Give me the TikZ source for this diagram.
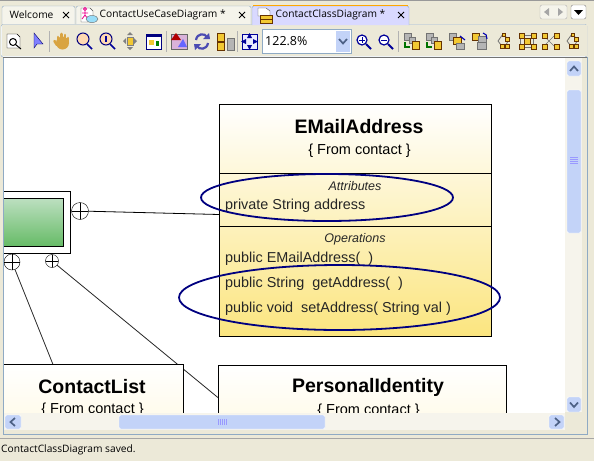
\documentclass[tikz,border=0pt]{standalone}
\usepackage{fontspec}
\setmainfont{Liberation Sans}
\newfontfamily\uifont{Open Sans}
\usetikzlibrary{shapes.geometric}
\definecolor{panelbg}{HTML}{ECE9D8}
\definecolor{framecol}{HTML}{8FAAC4}
\definecolor{thumbcol}{HTML}{C3D3F8}
\definecolor{arrowcol}{HTML}{4D6185}
\definecolor{markblue}{HTML}{000080}
\definecolor{iconyellow}{HTML}{F2C832}
\definecolor{icongray}{HTML}{B5B5B5}
\definecolor{classyellow}{HTML}{FBE57F}
\definecolor{classpale}{HTML}{FFF6D2}
\definecolor{handcol}{HTML}{D9A441}
\tikzset{
  tabtext/.style={font=\uifont\fontsize{10.2}{12}\selectfont,inner sep=0pt,anchor=west},
  tab/.style={draw=framecol,fill=#1,rounded corners=2pt},
  classbox/.style={draw=black,line width=0.8pt,top color=white},
  member/.style={font=\fontsize{14.4}{16}\selectfont,inner sep=0pt,anchor=base west,text=black!85},
  compartment/.style={font=\itshape\fontsize{12.5}{14}\selectfont,inner sep=0pt,text=black!85},
  classname/.style={font=\bfseries\fontsize{19.5}{22}\selectfont,inner sep=0pt},
  fromtext/.style={font=\fontsize{14.5}{16}\selectfont,inner sep=0pt},
  portcircle/.style={circle,draw=black,fill=white,inner sep=0pt,minimum size=#1,
    path picture={\draw (path picture bounding box.north) -- (path picture bounding box.south)
      (path picture bounding box.west) -- (path picture bounding box.east);}},
  markup/.style={ellipse,draw=markblue,line width=1.8pt,inner sep=0pt},
  sbbutton/.style={draw=white,fill=thumbcol,rounded corners=1.5pt},
  sbarrow/.style={draw=arrowcol,line width=1.7pt},
  sep/.style={draw=black!30},
  gray box/.style={draw=black!55,fill=icongray,line width=0.5pt},
  yellow box/.style={draw=black!60!orange,fill=iconyellow,line width=0.5pt},
}
\begin{document}
\begin{tikzpicture}[x=1pt,y=-1pt]
  \useasboundingbox (0,0) rectangle (594,461);
  \fill[panelbg] (0,0) rectangle (594,461);
  \draw[black!40] (0,0.5) -- (594,0.5);

  % Tabs
  \draw[tab=panelbg!50!white] (2,24) -- (2,6) -- (75,6) -- (75,24);
  \draw[tab=panelbg!50!white] (76,24) -- (76,6) -- (251,6) -- (251,24);
  \draw[tab=white] (1,24.5) -- (587,24.5) -- (587,57) -- (1,57) -- cycle;
  \fill[panelbg] (1.5,25) rectangle (586.5,56);
  \draw[tab=white!85!blue] (252,25) -- (252,6) -- (409,6) -- (409,25);
  \draw[orange!70!yellow,line width=1.5pt] (253,5.5) -- (408,5.5);
  \node[tabtext] (welcome) at (9.5,15) {Welcome};
  \node[tabtext] (usecase) at (99.5,15) {ContactUseCaseDiagram *};
  \node[tabtext] (classtab) at (275.5,15) {ContactClassDiagram *};
  \foreach \x in {66,242,401} {
    \draw[line width=1pt] (\x-3,12) -- (\x+3,18) (\x-3,18) -- (\x+3,12);
  }
  % tab icons
  \draw[draw=black!70,fill=white] (81,8) -- (90,8) -- (93,11) -- (93,22) -- (81,22) -- cycle;
  \draw[magenta,line width=0.8pt] (85,9) circle (1.5) (85,11) -- (85,15) -- (82,19) (85,15) -- (88,19) (82,13) -- (88,13);
  \draw[draw=black!60,fill=cyan!40] (92,19) ellipse (6 and 3.5);
  \draw[draw=black!70,fill=white] (258,8) -- (266,8) -- (270,11) -- (270,16) -- (258,16) -- cycle;
  \draw[draw=black!60!orange,fill=iconyellow] (260,15) rectangle (272,23);
  \draw[black!60!orange] (260,19) -- (272,19);
  % tab arrows
  \draw[draw=black!30,fill=panelbg!50!white,rounded corners=2pt] (540,5) rectangle (567,19);
  \fill[black!35] (549,8) -- (549,16) -- (544,12) -- cycle (558,8) -- (558,16) -- (563,12) -- cycle;
  \draw[draw=black!50,fill=white,rounded corners=2pt] (571,5) rectangle (586,19);
  \fill[black] (574,10) -- (583,10) -- (578.5,15) -- cycle;

  % Toolbar
  \foreach \x in {49,166,237,398} {
    \draw[sep] (\x,31) -- (\x,52);
  }
  \draw[fill=white,draw=black] (7,34) -- (17,34) -- (20,37) -- (20,48) -- (7,48) -- cycle;
  \draw[line width=1pt] (13,42) circle (3.5) (15.5,44.5) -- (21,49);
  \fill[blue!50!white,draw=blue!40!black] (34,33) -- (34,48) -- (37,44) -- (43,44) -- cycle;
  % hand
  \fill[handcol] (62.5,43) circle (6.5);
  \foreach \x/\t in {58/37,61.5/34,65/35,68/38} {
    \draw[handcol,line width=2.6pt,line cap=round] (\x,42) -- (\x,\t);
  }
  \draw[handcol,line width=2.6pt,line cap=round] (57,45) -- (54.5,41);
  \foreach \x in {84,107} {
    \draw[draw=blue!50!black,fill=orange!30!white,line width=1pt] (\x-1,39) circle (6);
    \draw[draw=blue!60!black,line width=1.6pt] (\x+3,44) -- (\x+8,49);
  }
  \fill[blue!60!black] (105,36) rectangle (107,42);
  \fill[iconyellow,draw=black!50] (127,37) rectangle (133,45);
  \fill[black!50] (130,32) -- (127,35) -- (133,35) -- cycle (130,50) -- (127,47) -- (133,47) -- cycle
    (123,41) -- (126,38) -- (126,44) -- cycle (137,41) -- (134,38) -- (134,44) -- cycle;
  \draw[draw=blue!50!black,fill=white] (146,34) rectangle (161,49);
  \fill[blue!50!black] (146,34) rectangle (161,37);
  \fill[iconyellow] (149,40) rectangle (154,45);
  \fill[green!50!black] (156,41) rectangle (159,46);
  \draw[draw=black!60,fill=violet!30] (171,34) rectangle (187,49);
  \fill[red!70!black] (176,33) -- (171,40) -- (181,40) -- cycle;
  \fill[blue!60] (183,39) -- (178,47) -- (187,47) -- cycle;
  % refresh
  \draw[blue!40!gray,line width=2.2pt] (196,40) .. controls (197,33) and (205,33) .. (207,37);
  \draw[blue!40!gray,line width=2.2pt] (208,43) .. controls (207,50) and (199,50) .. (197,46);
  \fill[blue!40!gray] (203,39) -- (210,39) -- (209,33) -- cycle (201,44) -- (194,44) -- (195,50) -- cycle;
  \draw[yellow box] (217,33) rectangle (224,41);
  \draw[yellow box] (217,42) rectangle (224,50);
  \draw[gray box] (227,38) rectangle (234,50);
  \draw[draw=blue!60!black,fill=blue!8] (242,34) rectangle (257,49);
  \fill[blue!60!black] (249.5,33) -- (247,38) -- (252,38) -- cycle (249.5,50) -- (247,45) -- (252,45) -- cycle
    (241,41.5) -- (246,39) -- (246,44) -- cycle (258,41.5) -- (253,39) -- (253,44) -- cycle;

  % Zoom box
  \draw[draw=framecol,fill=white] (262.5,29.5) rectangle (351,53);
  \node[inner sep=0pt,anchor=west,font=\uifont\fontsize{12.5}{14}\selectfont] (zoomtext) at (265,41.5) {122.8\%};
  \fill[thumbcol] (336,31) rectangle (350,52);
  \draw[sbarrow] (339,39) -- (343,43.5) -- (347,39);
  \foreach \x in {362,384} {
    \draw[draw=blue!60!black,fill=white,line width=1.2pt] (\x,40) circle (5);
    \draw[draw=blue!60!black,line width=1.8pt] (\x+4,44) -- (\x+9,49);
    \draw[blue!60!black,line width=1pt] (\x-3,40) -- (\x+3,40);
  }
  \draw[blue!60!black,line width=1pt] (362,37) -- (362,43);
  % Layout icons
  \foreach \x in {404,426} {
    \draw[gray box] (\x,33) rectangle +(7,7);
    \draw[gray box] (\x+5,37) rectangle +(6,6);
    \draw[yellow box] (\x+8,41) rectangle +(7,8);
    \draw[green!45!black,line width=1.2pt] (\x+1,42) -- (\x+1,47) -- (\x+6,47);
  }
  \draw[gray box] (449,33) rectangle +(7,7);
  \draw[yellow box] (453,37) rectangle +(8,7);
  \draw[gray box] (456,43) rectangle +(8,6);
  \draw[blue!70!black,line width=1.1pt] (460,36) -- (465,40);
  \draw[yellow box] (472,33) rectangle +(7,7);
  \draw[gray box] (478,36) rectangle +(8,7);
  \draw[gray box] (477,42) rectangle +(9,7);
  \draw[blue!70!black,line width=1.1pt] (483,33) .. controls (486,33) and (487,36) .. (487,39);
  \foreach \x in {503,572} {
    \draw[black!55,line width=0.8pt] (\x,34) -- (\x+3,37) (\x-5,41) -- (\x,34) (\x-5,41) -- (\x-2,45) (\x+5,41) -- (\x+3,45);
    \draw[yellow box] (\x-1,33) rectangle +(3,3);
    \draw[yellow box] (\x+2,37) rectangle +(4,4);
    \draw[yellow box] (\x-3,44) rectangle +(4,4);
    \draw[yellow box] (\x+2,44) rectangle +(4,4);
  }
  \draw[gray box,fill=none] (520,35) rectangle (533,47);
  \draw[yellow box] (524,38) rectangle +(6,6);
  \draw[black!55] (544,36) -- (554,46) (544,46) -- (554,36);
  \foreach \x in {519,542} {
    \foreach \a/\b in {0/0,12/0,0/11,12/11} {
      \draw[yellow box] (\x+\a,33+\b) rectangle +(5,5);
    }
  }

  % Canvas
  \fill[white] (4,58) rectangle (565,413);
  \draw[black!55] (3,57) -- (587,57);
  \draw[framecol] (3,57.5) -- (3,434) -- (587,434) -- (587,57);
  \begin{scope}
    \clip (4,58) rectangle (565,413);
    % Nodes with manual coordinates
    \node[portcircle=17pt] (portright) at (80,211) {};
    \node[portcircle=16pt] (portleft) at (12,262) {};
    \node[portcircle=13pt] (portmid) at (52,261) {};
    \coordinate (emailside) at (219,214.5);
    \coordinate (listtop) at (53,364.5);
    \coordinate (identityside) at (218.5,398);

    % Edges
    \draw[line width=0.8pt] (portright) -- (emailside);
    \draw[black!85,line width=0.8pt] (portleft) -- (listtop);
    \draw[black!85,line width=0.8pt] (portmid) -- (identityside);

    % Green element
    \definecolor{greentop}{HTML}{BCDFC0}
    \definecolor{greenbottom}{HTML}{66BB66}
    \draw[fill=white,line width=0.8pt] (-5,191.5) rectangle (70.5,253.5);
    \draw[top color=greentop,bottom color=greenbottom,line width=0.8pt] (-5,198.5) rectangle (63.5,246.5);

    % Classes
    \draw[classbox,bottom color=classyellow] (219,104.5) rectangle (491.5,336.5);
    \draw[line width=0.8pt] (219,173.5) -- (491.5,173.5) (219,226.5) -- (491.5,226.5);
    \draw[classbox,bottom color=classpale] (-5,364.5) rectangle (183,480);
    \draw[classbox,bottom color=classpale] (218.5,365.5) rectangle (506.5,480);
    \node[classname] (emailname) at (359,126.5) {EMailAddress};
    \node[fromtext] (emailfrom) at (359.5,151) {\{ From contact \}};
    \node[compartment] (attrs) at (355,186) {Attributes};
    \node[member] (address) at (225,209) {private String address};
    \node[compartment] (ops) at (355,239.5) {Operations};
    \node[member] (ctor) at (225,262) {public EMailAddress(\ \ )};
    \node[member] (getter) at (225,287) {public String\ \ getAddress(\ \ )};
    \node[member] (setter) at (225,312) {public void\ \ setAddress( String val )};
    \node[classname] (listname) at (92,386.5) {ContactList};
    \node[fromtext] (listfrom) at (92.5,410) {\{ From contact \}};
    \node[classname] (identityname) at (368,387.5) {PersonalIdentity};
    \node[fromtext] (identityfrom) at (368.5,411) {\{ From contact \}};

    % Markup
    \node[markup,minimum width=252pt,minimum height=47pt] (attrmark) at (327,197.5) {};
    \node[markup,minimum width=321pt,minimum height=65pt] (opsmark) at (339.5,297.5) {};
  \end{scope}

  % Scrollbars
  \fill[white!50!panelbg] (565,58) rectangle (582,412);
  \fill[panelbg] (582,57.5) rectangle (586.5,433.5);
  \fill[white!50!panelbg] (4,413) rectangle (565,430);
  \fill[panelbg] (565,412) rectangle (582,433);
  \fill[panelbg] (4,430) rectangle (582,433.5);
  \draw[sbbutton] (567,61) rectangle (581,76);
  \draw[sbbutton] (567,90) rectangle (581,233);
  \draw[sbbutton] (567,397) rectangle (581,412);
  \draw[sbbutton] (5,415) rectangle (21,429);
  \draw[sbbutton] (119,415) rectangle (325,429);
  \draw[sbbutton] (549,415) rectangle (564,429);
  \draw[sbarrow] (570,71) -- (574,66.5) -- (578,71);
  \draw[sbarrow] (570,402.5) -- (574,407) -- (578,402.5);
  \draw[sbarrow] (15,418) -- (10.5,422) -- (15,426);
  \draw[sbarrow] (555,418) -- (559.5,422) -- (555,426);
  \foreach \y in {157,159,161,163} {
    \draw[white!60!blue] (570,\y) -- (578,\y);
  }
  \foreach \x in {218,220,222,224,226} {
    \draw[white!60!blue] (\x,419) -- (\x,425);
  }

  % Status bar
  \draw[black!35] (0,438.5) -- (594,438.5);
  \node[tabtext] (status) at (1,450) {ContactClassDiagram saved.};
\end{tikzpicture}
\end{document}
